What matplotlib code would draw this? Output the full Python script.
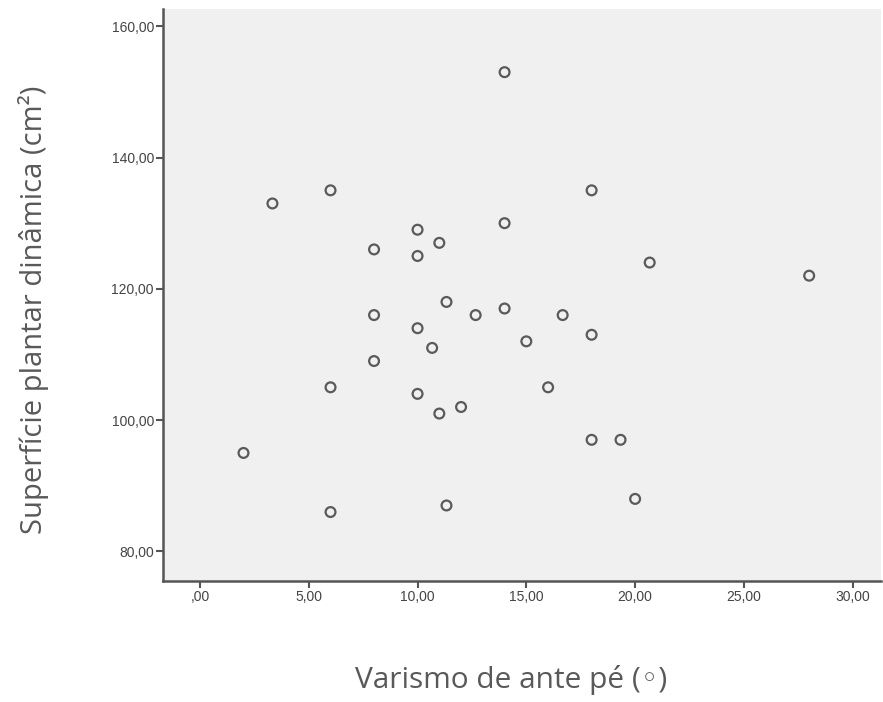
import matplotlib

matplotlib.use("Agg")
import matplotlib.pyplot as plt
from matplotlib.ticker import FuncFormatter, MultipleLocator

# varismo de ante pé (graus) e superfície plantar dinâmica (cm²)
varismo = [14, 3.33, 6, 14, 8, 10, 11, 10, 11.33, 8, 12.67, 14, 15, 10, 10.67, 8,
           6, 10, 11, 12, 2, 6, 11.33, 16, 18, 20.67, 28, 16.67, 18, 18, 19.33, 20]
superficie = [153, 133, 135, 130, 126, 129, 127, 125, 118, 116, 116, 117, 112, 114, 111, 109,
              105, 104, 101, 102, 95, 86, 87, 105, 135, 124, 122, 116, 113, 97, 97, 88]


def fmt(v, pos):
    s = f"{v:.2f}".replace(".", ",")
    return s[1:] if s.startswith("0,") else s


fig = plt.figure(figsize=(8.83, 7.02), dpi=100)
ax = fig.add_axes([0.1846, 0.1724, 0.8131, 0.8146])
ax.set_facecolor("#f0f0f0")

ax.scatter(varismo, superficie, s=50, facecolors="none", edgecolors="#5a5a5a",
           linewidths=1.6, zorder=3)

ax.set_xlim(-1.7, 31.3)
ax.set_ylim(75.5, 162.6)
ax.xaxis.set_major_locator(MultipleLocator(5))
ax.yaxis.set_major_locator(MultipleLocator(20))
ax.xaxis.set_major_formatter(FuncFormatter(fmt))
ax.yaxis.set_major_formatter(FuncFormatter(fmt))

for side in ("top", "right"):
    ax.spines[side].set_visible(False)
for side in ("left", "bottom"):
    ax.spines[side].set_color("#555555")
    ax.spines[side].set_linewidth(1.8)
ax.tick_params(direction="out", length=5, width=1.5, color="#555555",
               labelsize=10, labelcolor="#444444", pad=1.5)
for lab in ax.get_xticklabels() + ax.get_yticklabels():
    lab.set_family("Liberation Sans")

fig.text(0.579, 0.031, "Varismo de ante pé (◦)", ha="center", va="center",
         fontsize=21.5, color="#595959", family=["Open Sans", "DejaVu Sans"])
fig.text(0.0375, 0.558, "Superfície plantar dinâmica (cm²)", ha="center", va="center",
         rotation=90, fontsize=21, color="#595959", family=["Open Sans", "DejaVu Sans"])

fig.savefig("out.png", dpi=100, facecolor="white")
